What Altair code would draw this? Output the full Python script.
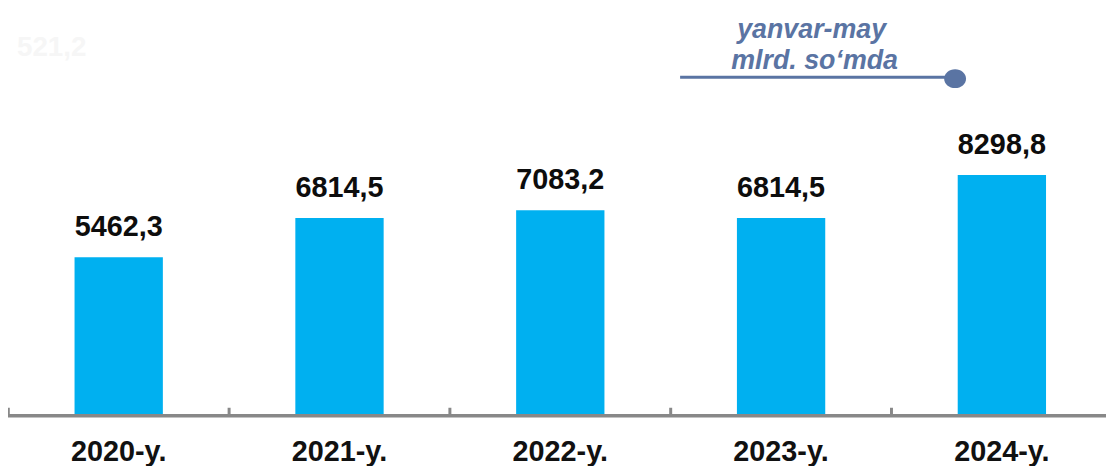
import altair as alt
import pandas as pd

years = ["2020-y.", "2021-y.", "2022-y.", "2023-y.", "2024-y."]
values = [5462.3, 6814.5, 7083.2, 6814.5, 8298.8]
value_labels = ["5462,3", "6814,5", "7083,2", "6814,5", "8298,8"]
note_lines = ["yanvar-may", "mlrd. so\u2018mda"]
ghost_label = ["521,2"]

FONT = "Liberation Sans"
BAR = "#00B0F0"
AXIS_GREY = "#888888"
NOTE = "#5a74a3"
W, H = 1106, 409
P_INNER = 0.6
P_OUTER = 0.2865
STEP = W / (5 - P_INNER + 2 * P_OUTER)

df = pd.DataFrame({"year": years, "value": values, "label": value_labels})

x_scale = alt.Scale(paddingInner=P_INNER, paddingOuter=P_OUTER, align=0.526, round=False)
x_enc = alt.X(
    "year:N",
    sort=years,
    scale=x_scale,
    axis=alt.Axis(
        title=None,
        domain=False,
        grid=False,
        ticks=False,
        labelAngle=0,
        labelFont=FONT,
        labelFontWeight="bold",
        labelFontSize=29,
        labelColor="#111111",
        labelPadding=22,
    ),
)
y_enc = alt.Y("value:Q", scale=alt.Scale(domain=[0, 13900]), axis=None)

base = alt.Chart(df)
bars = base.mark_bar(color=BAR).encode(x=x_enc, y=y_enc)
texts = base.mark_text(
    font=FONT, fontWeight="bold", fontSize=29, color="#0d0d0d",
    baseline="alphabetic", dy=-21,
).encode(x=alt.X("year:N", sort=years), y="value:Q", text="label:N")

# small ticks rising from the axis line at the category boundaries
ticks = base.mark_rule(
    color=AXIS_GREY, strokeWidth=3, xOffset=-P_INNER * STEP / 2
).encode(
    x=alt.X("year:N", sort=years, bandPosition=0),
    y=alt.value(H - 8),
    y2=alt.value(H),
)

domain_line = alt.Chart(pd.DataFrame({"a": [0]})).mark_rule(
    color=AXIS_GREY, strokeWidth=3.5
).encode(x=alt.value(0), x2=alt.value(W), y=alt.value(H))

ghost = alt.Chart(pd.DataFrame({"t": ghost_label})).mark_text(
    font=FONT, fontWeight="bold", fontSize=28, color="#f6f6f6",
    align="left", baseline="alphabetic",
).encode(x=alt.value(9), y=alt.value(47), text="t:N")

note1 = alt.Chart(pd.DataFrame({"t": [note_lines[0]]})).mark_text(
    font=FONT, fontWeight="bold", fontStyle="italic", fontSize=27, color=NOTE,
    align="center", baseline="alphabetic",
).encode(x=alt.value(809.5), y=alt.value(29), text="t:N")

note2 = alt.Chart(pd.DataFrame({"t": [note_lines[1]]})).mark_text(
    font=FONT, fontWeight="bold", fontStyle="italic", fontSize=27, color=NOTE,
    align="center", baseline="alphabetic",
).encode(x=alt.value(812.5), y=alt.value(60), text="t:N")

note_line = alt.Chart(pd.DataFrame({"a": [0]})).mark_rule(
    color=NOTE, strokeWidth=3
).encode(x=alt.value(677), x2=alt.value(945), y=alt.value(68))

note_dot = alt.Chart(pd.DataFrame({"a": [0]})).mark_point(
    shape="M -1 0 A 1 0.86 0 1 0 1 0 A 1 0.86 0 1 0 -1 0 Z",
    filled=True, color=NOTE, opacity=1, size=484,
).encode(x=alt.value(954), y=alt.value(69.5))

chart = alt.layer(
    ghost, bars, ticks, domain_line, texts, note_line, note_dot, note1, note2
).properties(
    width=W, height=H,
    autosize=alt.AutoSizeParams(type="none"),
    padding={"left": 0, "top": 0, "right": 0, "bottom": 49},
    background="white",
).configure_view(stroke=None)

chart.save("out.html", embed_options={"renderer": "svg", "actions": False})
